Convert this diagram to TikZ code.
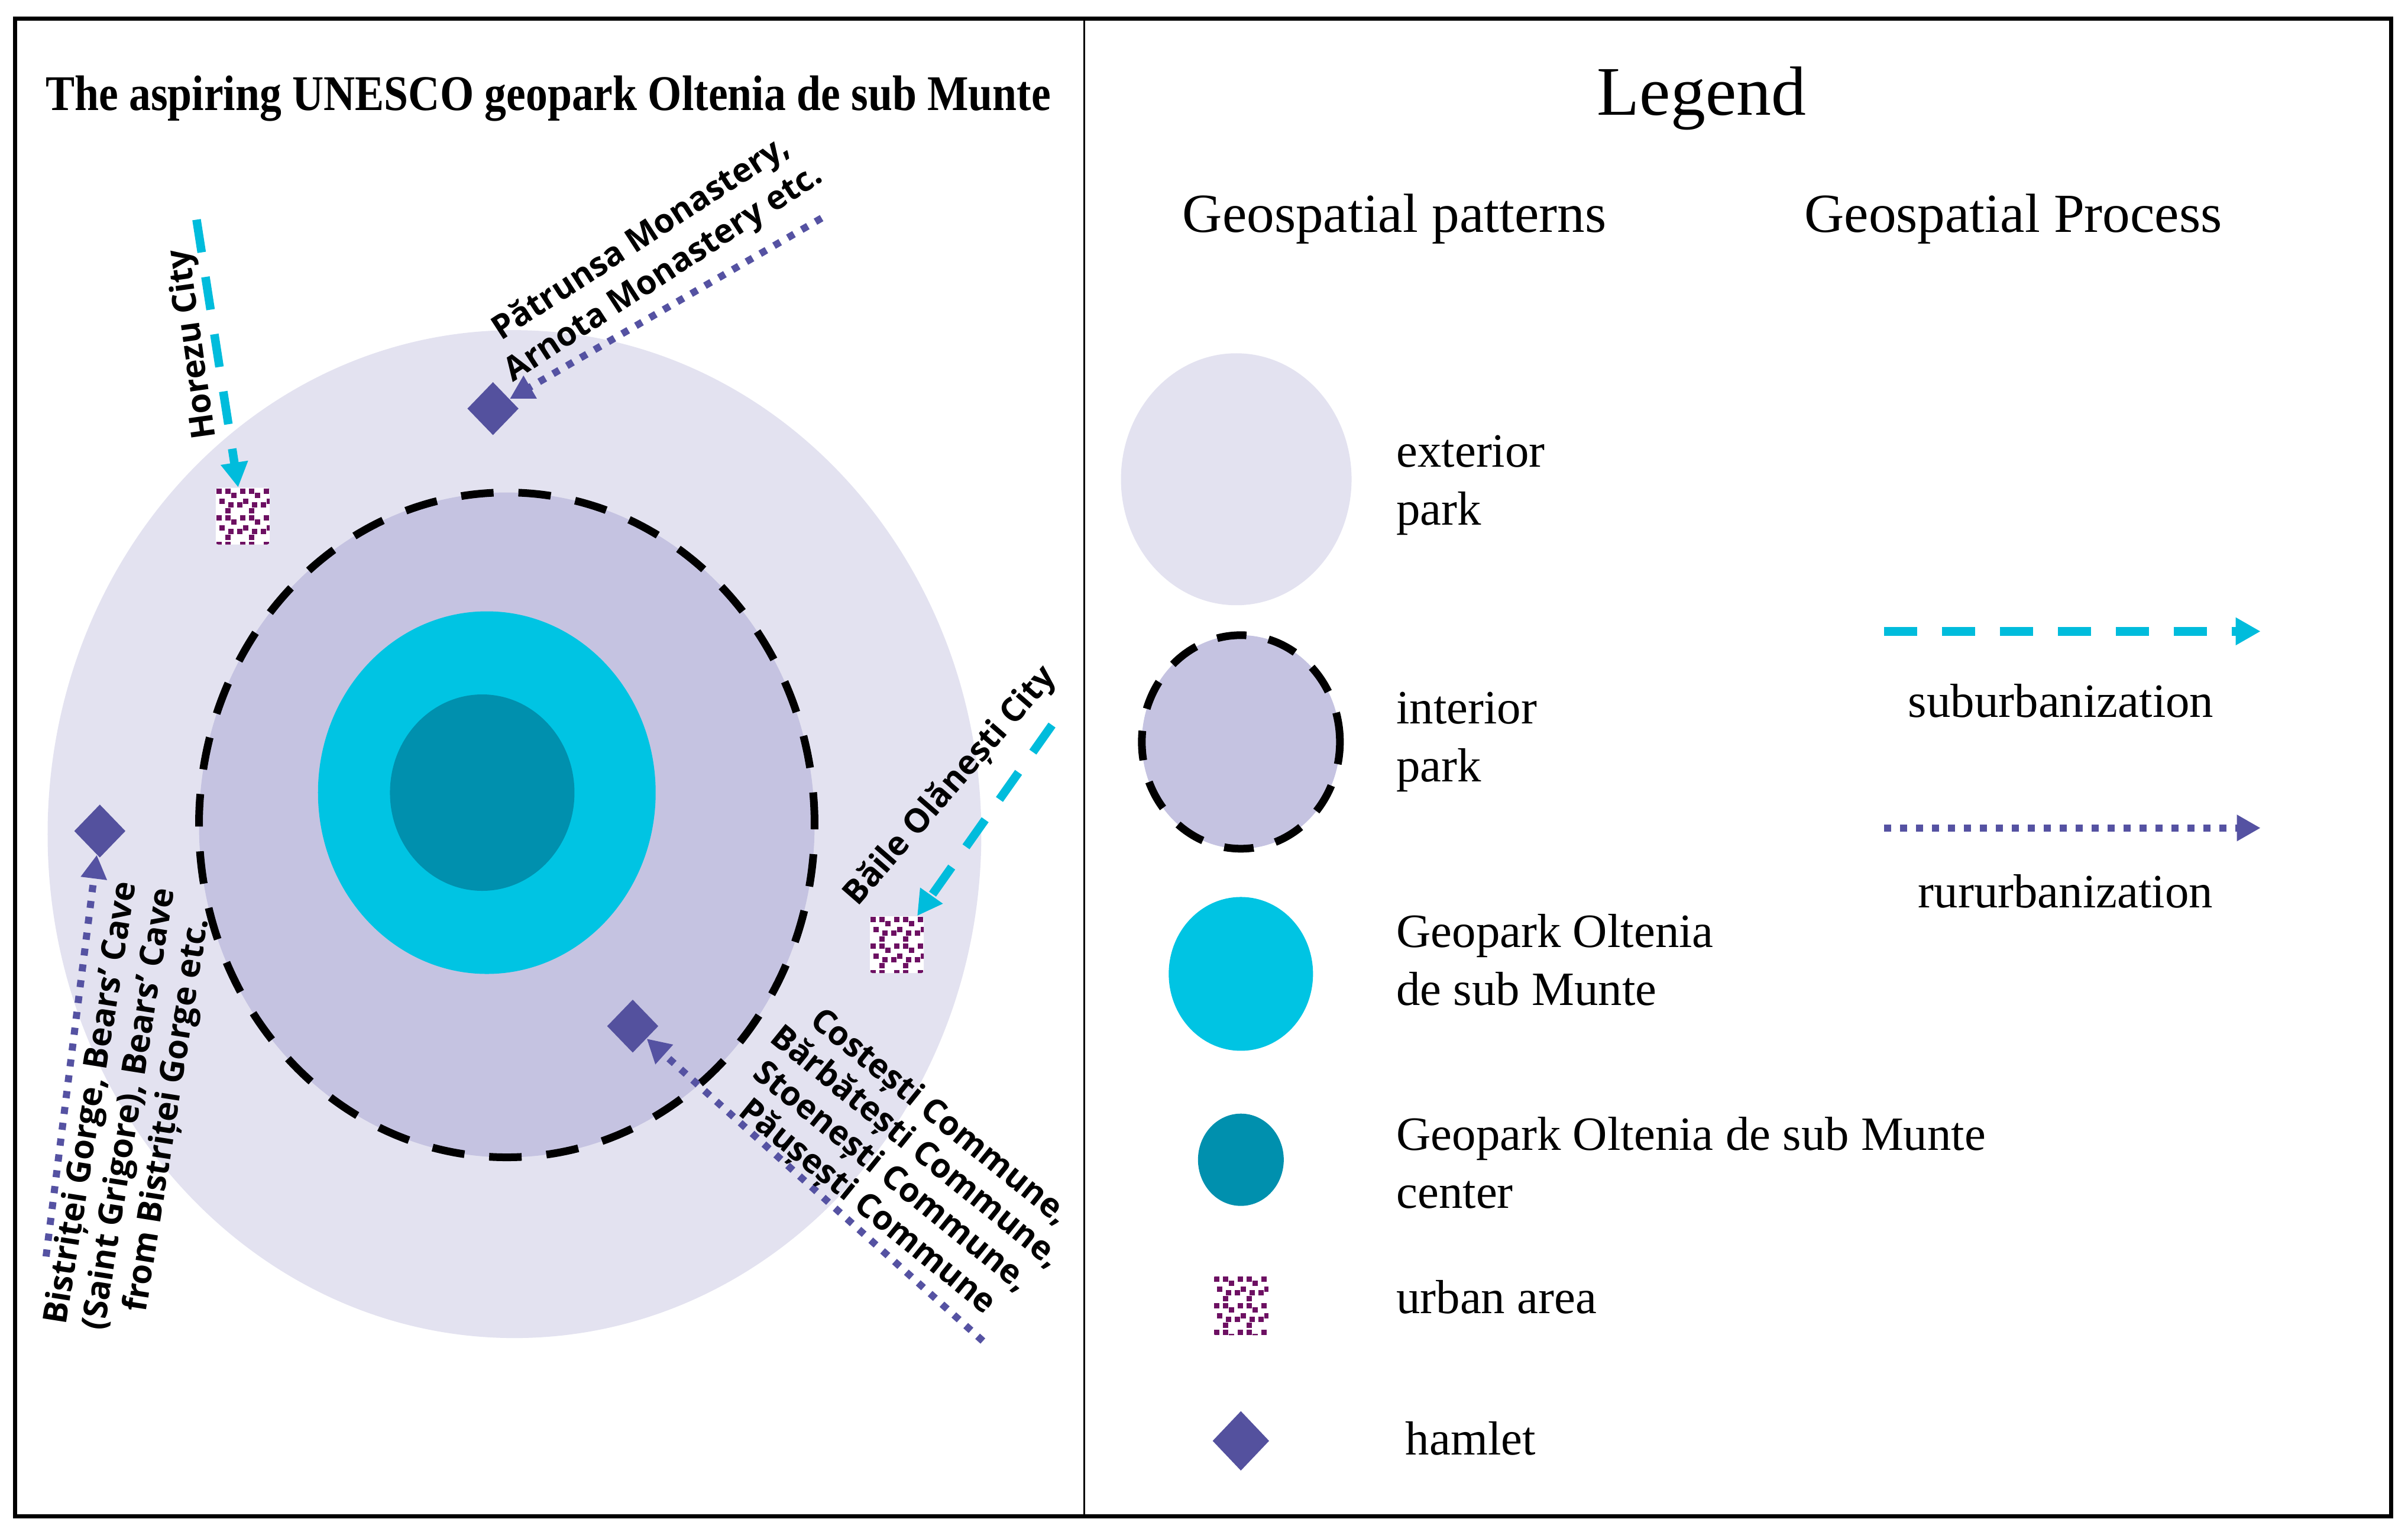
\documentclass[tikz,border=0pt]{standalone}
\usepackage{graphicx}
\usepackage{fontspec}
\setmainfont{Liberation Serif}
\newfontfamily\labfont{Open Sans}
\usetikzlibrary{shapes.geometric,arrows.meta}
\definecolor{extc}{HTML}{E3E2F0}
\definecolor{intc}{HTML}{C5C3E1}
\definecolor{geoc}{HTML}{00C4E3}
\definecolor{cenc}{HTML}{0090AE}
\definecolor{hamc}{HTML}{54519E}
\definecolor{subc}{HTML}{00BCDC}
\definecolor{rurc}{HTML}{5552A2}
\definecolor{urbc}{HTML}{6D1062}
\begin{document}
\begin{tikzpicture}[x=0.02597cm,y=-0.02597cm,
  region/.style={ellipse, inner sep=0pt, outer sep=0pt},
  extp/.style={region, fill=extc},
  intp/.style={region, fill=intc, draw=black, line width=0.13cm, dash pattern=on 0.55cm off 0.42cm},
  geop/.style={region, fill=geoc},
  cenp/.style={region, fill=cenc},
  hamlet/.style={diamond, aspect=1, fill=hamc, inner sep=0pt, minimum width=0.87cm, minimum height=0.9cm},
  urban/.style={rectangle, rounded corners=1.2pt, fill=white, inner sep=0pt, minimum width=0.91cm, minimum height=0.96cm,
    path picture={\foreach \ti in {0,1,2}{\foreach \tj in {0,1,2}{\foreach \dx/\dy in {0/0,15/0,25/7,5/17,20/23,35/23,15/33}{
      \pgfmathsetmacro\ux{0.01+\ti*0.4+\dx*0.01}
      \pgfmathsetmacro\uy{0.01+\tj*0.45+\dy*0.01}
      \fill[urbc, sharp corners] ([xshift=\ux cm, yshift=-\uy cm]path picture bounding box.north west) rectangle ++(0.09cm,-0.09cm);}}}}},
  subarrow/.style={draw=subc, line width=0.145cm, dash pattern=on 0.56cm off 0.42cm, -{Triangle[length=0.42cm,width=0.44cm]}},
  ruarrow/.style={draw=rurc, line width=0.12cm, dash pattern=on 0.12cm off 0.15cm, -{Triangle[length=0.4cm,width=0.42cm]}},
  lab/.style={font=\labfont\bfseries\fontsize{16}{18.5}\selectfont, inner sep=0pt, align=center},
  item/.style={font=\fontsize{23}{28}\selectfont, inner sep=0pt, align=left},
]
\path[use as bounding box] (0,0) rectangle (1568,997);

% ---- map ----
\node[extp, minimum width=15.79cm, minimum height=17.04cm] (ext) at (335,543) {};
\node[intp, minimum width=10.41cm, minimum height=11.24cm] (int) at (330,537) {};
\node[geop, minimum width=5.71cm, minimum height=6.13cm] (geo) at (317,516) {};
\node[cenp, minimum width=3.12cm, minimum height=3.32cm] (cen) at (314,516) {};

\node[hamlet] (h1) at (321,266) {};
\node[hamlet] (h2) at (65,541) {};
\node[hamlet] (h3) at (412,668) {};
\node[urban] (u1) at (158,336) {};
\node[urban] (u2) at (584,615) {};

\coordinate (hzs) at (128,143);
\coordinate (pas) at (535,142);
\coordinate (bos) at (685,472);
\coordinate (bis) at (30,818);
\coordinate (cos) at (640,873);
\draw[subarrow] (hzs) -- (u1);
\draw[subarrow] (bos) -- (u2);
\draw[ruarrow] (pas) -- (h1);
\draw[ruarrow] (bis) -- (h2);
\draw[ruarrow] (cos) -- (h3);

\node[lab, rotate=98] (hzl) at (126,224) {Horezu City};
\node[lab, rotate=33, font=\labfont\bfseries\fontsize{16}{20}\selectfont] (pal) at (425,167) {Pătrunsa Monastery,\\Arnota Monastery etc.};
\node[lab, rotate=49] (bol) at (619,512) {Băile Olănești City};
\node[lab, rotate=81] (bil) at (85,722) {Bistriței Gorge, Bears’ Cave\\(Saint Grigore), Bears’ Cave\\from Bistriței Gorge etc.};
\node[lab, rotate=-39] (col) at (588,757) {Costești Commune,\\Bărbătești Commune,\\Stoenești Commune,\\Păușești Commune};

\node[anchor=base, inner sep=0pt] (title) at (357,72) {\scalebox{0.873}[1]{\fontsize{24}{28}\selectfont\bfseries The aspiring UNESCO geopark Oltenia de sub Munte}};

% ---- legend ----
\node[anchor=base, inner sep=0pt, font=\fontsize{33.5}{38}\selectfont] (leg) at (1108,75) {Legend};
\node[anchor=base, inner sep=0pt, font=\fontsize{26.5}{30}\selectfont] (gpat) at (908,151) {Geospatial patterns};
\node[anchor=base, inner sep=0pt, font=\fontsize{26.5}{30}\selectfont] (gpro) at (1311,151) {Geospatial Process};

\node[extp, minimum width=3.9cm, minimum height=4.26cm] (lext) at (805,312) {};
\node[intp, minimum width=3.35cm, minimum height=3.61cm, dash pattern=on 0.5cm off 0.38cm] (lint) at (808,483) {};
\node[geop, minimum width=2.44cm, minimum height=2.6cm] (lgeo) at (808,634) {};
\node[cenp, minimum width=1.45cm, minimum height=1.56cm] (lcen) at (808,755) {};
\node[urban, minimum width=0.93cm, minimum height=1.0cm] (lurb) at (808,850) {};
\node[hamlet, minimum width=0.96cm, minimum height=1.01cm] (lham) at (808,938) {};

\node[item, anchor=west] (text) at (909,316) {exterior\\park};
\node[item, anchor=west] (tint) at (909,483) {interior\\park};
\node[item, anchor=west] (tgeo) at (909,625) {Geopark Oltenia\\de sub Munte};
\node[item, anchor=west] (tcen) at (909,757) {Geopark Oltenia de sub Munte\\center};
\node[item, anchor=base west] (turb) at (909,855) {urban area};
\node[item, anchor=base west] (tham) at (915,947) {hamlet};

\coordinate (s1) at (1227,411);
\coordinate (s2) at (1472,411);
\coordinate (r1) at (1227,539);
\coordinate (r2) at (1472,539);
\draw[subarrow] (s1) -- (s2);
\draw[ruarrow] (r1) -- (r2);
\node[item, anchor=base] (tsub) at (1342,467) {suburbanization};
\node[item, anchor=base] (trur) at (1345,591) {rururbanization};

% ---- frame ----
\draw[line width=0.07cm] (10,12) rectangle (1557,987);
\draw[line width=0.035cm] (706,12) -- (706,987);
\end{tikzpicture}
\end{document}
